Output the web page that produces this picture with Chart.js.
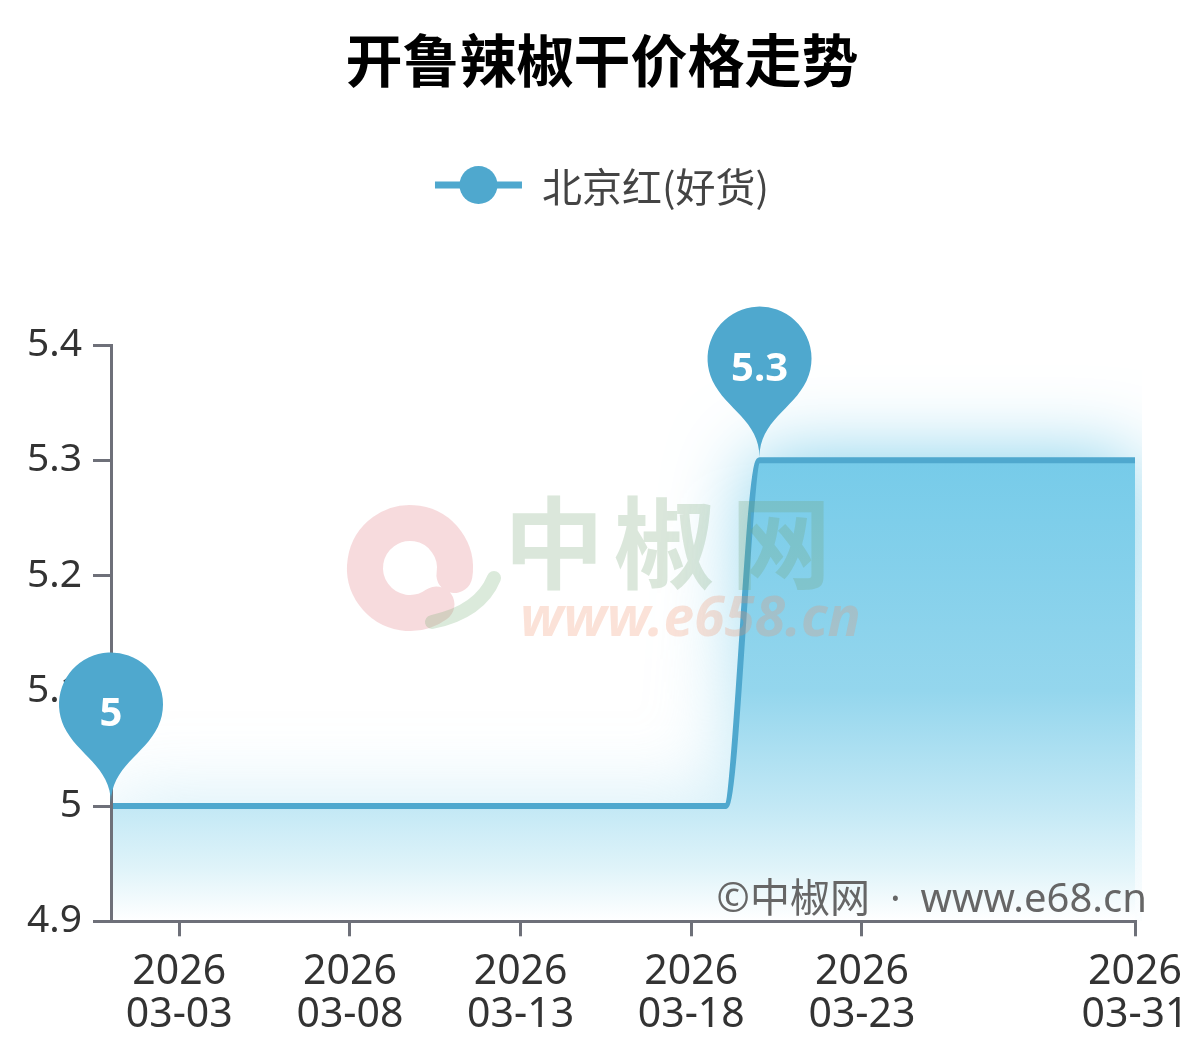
<!DOCTYPE html>
<html>
<head>
<meta charset="utf-8">
<script src="https://cdn.jsdelivr.net/npm/chart.js@4/dist/chart.umd.min.js"></script>
<style>
  html, body { margin: 0; padding: 0; background: #fff; }
  #priceChart { display: block; }
</style>
</head>
<body>
<canvas id="priceChart" width="1204" height="1053"></canvas>
<script>
const titleText = '开鲁辣椒干价格走势';
const seriesName = '北京红(好货)';
const year = '2026';
const days = ['03-01', '03-02', '03-03', '03-04', '03-05', '03-06', '03-07', '03-08',
              '03-09', '03-10', '03-11', '03-12', '03-13', '03-14', '03-15', '03-16',
              '03-17', '03-18', '03-19', '03-20', '03-21', '03-22', '03-23', '03-24',
              '03-25', '03-26', '03-27', '03-28', '03-29', '03-30', '03-31'];
const prices = [5, 5, 5, 5, 5, 5, 5, 5, 5, 5, 5, 5, 5, 5, 5, 5, 5, 5, 5,
                5.3, 5.3, 5.3, 5.3, 5.3, 5.3, 5.3, 5.3, 5.3, 5.3, 5.3, 5.3];
const xTickDays = ['03-03', '03-08', '03-13', '03-18', '03-23', '03-31'];
const yTicks = [4.9, 5, 5.1, 5.2, 5.3, 5.4];

const blue = '#4fa8ce';
const axisGray = '#6e7079';
const fontFamily = '"Noto Sans", "Noto Sans CJK SC", sans-serif';
const cjkFamily = '"Noto Sans CJK SC", sans-serif';

const dayNum = d => parseInt(d.slice(3), 10);

function areaGradient(context) {
    const chart = context.chart;
    const area = chart.chartArea;
    if (!area) return 'rgb(190,230,244)';
    const top = chart.scales.y.getPixelForValue(Math.max(...prices));
    const g = chart.ctx.createLinearGradient(0, top, 0, area.bottom);
    g.addColorStop(0, 'rgb(118,203,233)');
    g.addColorStop(0.5, 'rgb(148,214,237)');
    g.addColorStop(0.75, 'rgb(194,232,245)');
    g.addColorStop(0.88, 'rgb(222,243,249)');
    g.addColorStop(1, 'rgb(255,255,255)');
    return g;
}

// soft glow round the filled area: only the shadow of the area shape is painted,
// the opaque fill drawn by the filler then covers the inside
const glowPlugin = {
    id: 'glow',
    beforeDatasetsDraw(chart) {
        const meta = chart.getDatasetMeta(0);
        const line = meta.dataset;
        const pts = meta.data;
        const area = chart.chartArea;
        const c = chart.ctx;
        const top = chart.scales.y.getPixelForValue(Math.max(...prices));
        const shift = 4000;
        c.save();
        c.beginPath();
        c.rect(area.left, area.top, area.right - area.left + 7, area.bottom - area.top);
        c.clip();
        const g = c.createLinearGradient(0, top, 0, area.bottom);
        g.addColorStop(0, 'rgba(0,0,0,1)');
        g.addColorStop(0.75, 'rgba(0,0,0,0.35)');
        g.addColorStop(1, 'rgba(0,0,0,0.1)');
        c.translate(-shift, 0);
        c.shadowOffsetX = shift;
        c.shadowColor = 'rgba(118,203,233,1)';
        c.shadowBlur = 80;
        c.beginPath();
        line.path(c);
        c.lineTo(pts[pts.length - 1].x, area.bottom);
        c.lineTo(pts[0].x, area.bottom);
        c.closePath();
        c.fillStyle = g;
        c.fill();
        c.restore();
    }
};

function drawPin(c, x, y, text) {
    const r = 52, h = 173;
    const dy = r * r / (h - r);
    const cy = y - h + r + dy;
    const angle = Math.asin(dy / r);
    const dx = Math.cos(angle) * r;
    const tanX = Math.sin(angle), tanY = Math.cos(angle);
    const cp = r * 0.6, cp2 = r * 0.7;
    c.beginPath();
    c.moveTo(x - dx, cy + dy);
    c.arc(x, cy, r, Math.PI - angle, Math.PI * 2 + angle);
    c.bezierCurveTo(x + dx - tanX * cp, cy + dy + tanY * cp, x, y - cp2, x, y);
    c.bezierCurveTo(x, y - cp2, x - dx + tanX * cp, cy + dy + tanY * cp, x - dx, cy + dy);
    c.closePath();
    c.fillStyle = blue;
    c.fill();
    c.fillStyle = '#fff';
    c.font = 'bold 40px ' + fontFamily;
    c.textAlign = 'center';
    c.textBaseline = 'alphabetic';
    c.fillText(text, x, cy + 22);
}

const decorPlugin = {
    id: 'decor',
    afterDatasetsDraw(chart) {
        const c = chart.ctx;
        c.save();
        // watermark logo
        c.lineCap = 'round';
        c.strokeStyle = 'rgba(220,90,100,0.22)';
        c.lineWidth = 36;
        c.beginPath();
        c.arc(410, 568, 45, 0.3 * Math.PI, 2.05 * Math.PI);
        c.stroke();
        c.strokeStyle = 'rgba(110,170,110,0.25)';
        c.lineWidth = 14;
        c.beginPath();
        c.moveTo(432, 622);
        c.quadraticCurveTo(480, 612, 494, 578);
        c.stroke();
        // watermark text
        c.fillStyle = 'rgba(110,160,110,0.25)';
        c.font = 'bold 100px ' + cjkFamily;
        c.textAlign = 'center';
        c.textBaseline = 'middle';
        [['中', 554], ['椒', 664], ['网', 781]].forEach(([ch, x]) => c.fillText(ch, x, 543));
        c.fillStyle = 'rgba(240,140,100,0.25)';
        c.font = 'italic bold 55px ' + fontFamily;
        c.textAlign = 'left';
        c.textBaseline = 'alphabetic';
        c.fillText('www.e658.cn', 520, 636);
        c.restore();
    },
    afterDraw(chart) {
        const c = chart.ctx;
        c.save();
        // legend
        c.font = '40px ' + cjkFamily;
        const label = chart.data.datasets[0].label;
        const tw = c.measureText(label).width;
        const iconW = 87, gap = 20, ly = 185;
        const lx = (chart.width - (iconW + gap + tw)) / 2;
        c.strokeStyle = blue;
        c.lineWidth = 7;
        c.beginPath();
        c.moveTo(lx, ly);
        c.lineTo(lx + iconW, ly);
        c.stroke();
        c.fillStyle = blue;
        c.beginPath();
        c.arc(lx + iconW / 2, ly, 19, 0, Math.PI * 2);
        c.fill();
        c.fillStyle = '#444';
        c.textAlign = 'left';
        c.textBaseline = 'middle';
        c.fillText(label, lx + iconW + gap, ly + 2);

        // copyright
        c.fillStyle = '#666';
        c.font = '40px ' + fontFamily;
        c.textAlign = 'right';
        c.textBaseline = 'alphabetic';
        c.fillText('©中椒网\u2002·\u2002www.e68.cn', 1147, 912);

        // max / min pins
        const pts = chart.getDatasetMeta(0).data;
        const iMax = prices.indexOf(Math.max(...prices));
        const iMin = prices.indexOf(Math.min(...prices));
        drawPin(c, pts[iMin].x, pts[iMin].y - 3, String(prices[iMin]));
        drawPin(c, pts[iMax].x, pts[iMax].y - 3, String(prices[iMax]));
        c.restore();
    }
};

const canvas = document.getElementById('priceChart');
const ctx = canvas.getContext('2d');

new Chart(ctx, {
    type: 'line',
    data: {
        datasets: [{
            label: seriesName,
            data: days.map((d, i) => ({ x: dayNum(d), y: prices[i] })),
            borderColor: blue,
            borderWidth: 6,
            backgroundColor: areaGradient,
            fill: 'start',
            pointRadius: 0,
            pointHoverRadius: 0,
            cubicInterpolationMode: 'monotone'
        }]
    },
    options: {
        responsive: false,
        devicePixelRatio: 1,
        animation: false,
        events: [],
        layout: { padding: 0 },
        plugins: {
            legend: { display: false },
            tooltip: { enabled: false },
            title: {
                display: true,
                text: titleText,
                color: '#000',
                font: { family: cjkFamily, size: 57, weight: 'bold', lineHeight: 1.2 },
                padding: { top: 26, bottom: 250.6 }
            }
        },
        scales: {
            x: {
                type: 'linear',
                min: dayNum(days[0]),
                max: dayNum(days[days.length - 1]),
                afterBuildTicks: scale => {
                    scale.ticks = xTickDays.map(d => ({ value: dayNum(d) }));
                },
                afterFit: scale => {
                    scale.height = 131.7;
                    scale.paddingRight = 69;
                },
                grid: {
                    display: true,
                    drawOnChartArea: false,
                    drawTicks: true,
                    tickLength: 15,
                    color: axisGray,
                    lineWidth: 3,
                    z: 1
                },
                border: { display: true, color: axisGray, width: 3, z: 1 },
                ticks: {
                    autoSkip: false,
                    maxRotation: 0,
                    padding: 14,
                    color: '#333',
                    font: { family: fontFamily, size: 41, lineHeight: 1.05 },
                    callback: value => {
                        const d = xTickDays.find(t => dayNum(t) === value);
                        return [year, d];
                    }
                }
            },
            y: {
                min: yTicks[0],
                max: yTicks[yTicks.length - 1],
                afterBuildTicks: scale => {
                    scale.ticks = yTicks.map(v => ({ value: v }));
                },
                afterFit: scale => { scale.width = 111; },
                grid: {
                    display: true,
                    drawOnChartArea: false,
                    drawTicks: true,
                    tickLength: 18,
                    color: axisGray,
                    lineWidth: 3,
                    z: 1
                },
                border: { display: true, color: axisGray, width: 3, z: 1 },
                ticks: {
                    padding: 11,
                    color: '#333',
                    font: { family: fontFamily, size: 39 },
                    callback: v => String(+Number(v).toFixed(1))
                }
            }
        }
    },
    plugins: [glowPlugin, decorPlugin]
});
</script>
</body>
</html>
